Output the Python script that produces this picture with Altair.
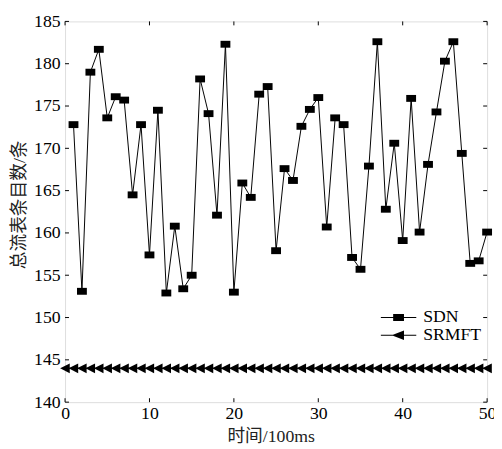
import altair as alt
import pandas as pd

# ---- data ----
sdn_x = list(range(1, 51))
sdn_y = [172.8, 153.1, 179.0, 181.7, 173.6, 176.1, 175.7, 164.5, 172.8, 157.4,
         174.5, 152.9, 160.8, 153.4, 155.0, 178.2, 174.1, 162.1, 182.3, 153.0,
         165.9, 164.2, 176.4, 177.3, 157.9, 167.6, 166.2, 172.6, 174.6, 176.0,
         160.7, 173.6, 172.8, 157.1, 155.7, 167.9, 182.6, 162.8, 170.6, 159.1,
         175.9, 160.1, 168.1, 174.3, 180.3, 182.6, 169.4, 156.4, 156.7, 160.1]
srmft_x = list(range(0, 51))
srmft_y = [144] * len(srmft_x)
series_names = ["SDN", "SRMFT"]
x_ticks = [0, 10, 20, 30, 40, 50]
y_ticks = [140, 145, 150, 155, 160, 165, 170, 175, 180, 185]

df = pd.concat([
    pd.DataFrame({"series": "SDN", "x": sdn_x, "y": sdn_y}),
    pd.DataFrame({"series": "SRMFT", "x": srmft_x, "y": srmft_y}),
], ignore_index=True)
df_xt = pd.DataFrame({"v": x_ticks})
df_yt = pd.DataFrame({"v": y_ticks})

W, H = 429, 387
SERIF = "Liberation Serif"
CJK = "Liberation Serif, Noto Sans CJK SC"

SQUARE = "M-1,-0.7H1V0.7H-1Z"
TRI = "M-1,0L0.95,-1L0.95,1Z"
LEG_SQUARE = "M-3.6,-0.1H3.6V0.1H-3.6ZM-1.1,-0.7H1.1V0.7H-1.1Z"
LEG_TRI = "M-3.6,-0.1H3.6V0.1H-3.6ZM-1.4,0L1.1,-0.95L1.1,0.95Z"

xs = alt.Scale(domain=[0, 50], nice=False, zero=False)
ys = alt.Scale(domain=[140, 185], nice=False, zero=False)

X = alt.X("x:Q", scale=xs, axis=alt.Axis(
    values=x_ticks, tickSize=0, domain=False, grid=False, labelFlush=False,
    labelFont=SERIF, labelFontSize=18, labelColor="black", labelPadding=3,
    title="时间/100ms", titleFont=CJK, titleFontSize=18, titleFontWeight="normal",
    titleColor="#222", titleX=209, titleY=35, titleBaseline="middle"))
Y = alt.Y("y:Q", scale=ys, axis=alt.Axis(
    values=y_ticks, tickSize=0, domain=False, grid=False, labelFlush=False,
    labelFont=SERIF, labelFontSize=18, labelColor="black", labelPadding=5,
    title="总流表条目数/条", titleFont=CJK, titleFontSize=18, titleFontWeight="normal",
    titleColor="#222", titleX=-46, titleY=186, titleBaseline="middle", titleAngle=270))

base = alt.Chart(df)
lines = base.mark_line(color="black", strokeWidth=1).encode(x=X, y=Y, detail="series:N")
pts_sdn = base.transform_filter(alt.datum.series == "SDN").mark_point(
    shape=SQUARE, size=100, filled=True, color="black", opacity=1).encode(x=X, y=Y)
pts_srm = base.transform_filter(alt.datum.series == "SRMFT").mark_point(
    shape=TRI, size=100, filled=True, color="black", opacity=1).encode(x=X, y=Y)
legend_layer = base.mark_point(filled=True, opacity=0, color="black").encode(
    x=X, y=Y,
    shape=alt.Shape("series:N",
                    scale=alt.Scale(domain=series_names, range=[LEG_SQUARE, LEG_TRI]),
                    legend=alt.Legend(title=None, orient="none", legendX=330, legendY=292,
                                      symbolSize=100, symbolOpacity=1,
                                      symbolFillColor="black", symbolStrokeColor="black",
                                      symbolStrokeWidth=0, labelFont=SERIF,
                                      labelFontSize=18, labelColor="black",
                                      labelOffset=16, rowPadding=0, padding=0)))

xt = alt.Chart(df_xt)
yt = alt.Chart(df_yt)
xtick_b = xt.mark_rule(color="black", strokeWidth=1).encode(
    x=alt.X("v:Q", scale=xs), y=alt.value(H - 4), y2=alt.value(H))
xtick_t = xt.mark_rule(color="black", strokeWidth=1).encode(
    x=alt.X("v:Q", scale=xs), y=alt.value(0), y2=alt.value(4))
ytick_l = yt.mark_rule(color="black", strokeWidth=1).encode(
    y=alt.Y("v:Q", scale=ys), x=alt.value(0), x2=alt.value(4))
ytick_r = yt.mark_rule(color="black", strokeWidth=1).encode(
    y=alt.Y("v:Q", scale=ys), x=alt.value(W - 4), x2=alt.value(W))

chart = alt.layer(
    xtick_b, xtick_t, ytick_l, ytick_r, lines, pts_sdn, pts_srm, legend_layer
).properties(
    width=W, height=H,
    autosize=alt.AutoSizeParams(type="none"),
    padding={"left": 58, "top": 10, "right": 7, "bottom": 44},
).configure_view(stroke="black", strokeWidth=1.5).configure(background="white")

chart.save("out.html", embed_options={"renderer": "svg", "actions": False})
